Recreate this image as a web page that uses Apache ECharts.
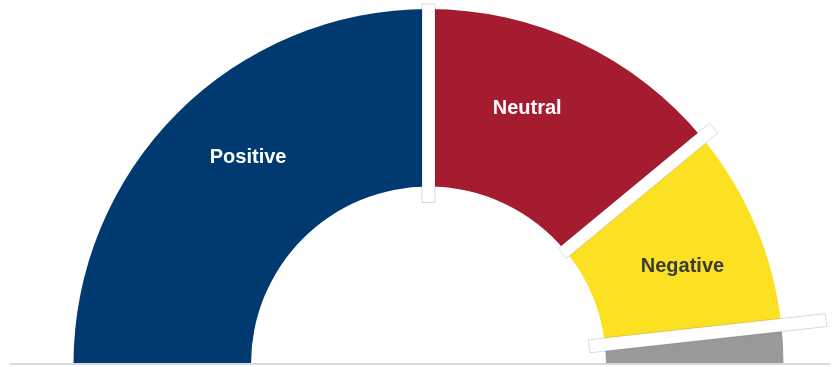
<!DOCTYPE html>
<html>
<head>
<meta charset="utf-8">
<script src="https://cdn.jsdelivr.net/npm/echarts@6/dist/echarts.min.js"></script>
<style>
  html, body { margin: 0; padding: 0; background: #fff; }
  #chart { width: 836px; height: 367px; }
</style>
</head>
<body>
<div id="chart"></div>
<script>
// Sentiment shares (percent of responses), drawn as a half doughnut
const categories = ['Positive', 'Neutral', 'Negative', 'No answer'];
const shares = [50, 28, 18.5, 3.5];
const sliceColors = ['#003A70', '#A51B30', '#FCE022', '#999999'];
const labelColors = ['#ffffff', '#ffffff', '#3A3A3A', '#ffffff'];
const showLabel = [true, true, true, false];

// Layout constants
const CX = 428.5, CY = 364;
const R_IN = 177.5, R_OUT = 355;
// label nudges (px) away from the default mid-ring position
const labelNudge = [[10, -16], [-16, -12], [6, 7], [0, 0]];
// how far each white divider runs past the ring [inward, outward]
const dividerReach = [[16, 5], [4, 15], [16, 45]];

const total = shares.reduce((a, b) => a + b, 0);

// boundaries between neighbouring slices, in share units
const boundaries = [];
let acc = 0;
for (let i = 0; i < shares.length - 1; i++) {
  acc += shares[i];
  boundaries.push(acc);
}

const pieData = categories.map((name, i) => ({
  name: name,
  value: shares[i],
  itemStyle: { color: sliceColors[i] },
  label: { show: showLabel[i], color: labelColors[i] }
}));
// lower half of the ring is left blank
pieData.push({
  name: '',
  value: total,
  itemStyle: { color: 'rgba(0,0,0,0)' },
  label: { show: false }
});

const chart = echarts.init(document.getElementById('chart'), null, { renderer: 'canvas' });

chart.setOption({
  animation: false,
  backgroundColor: '#ffffff',
  polar: { center: [CX, CY], radius: R_OUT },
  angleAxis: {
    type: 'value', min: 0, max: total * 2,
    startAngle: 180, clockwise: true, show: false
  },
  radiusAxis: { type: 'value', min: 0, max: R_OUT, show: false },
  graphic: [{
    type: 'line',
    z: 100,
    shape: { x1: 10, y1: CY, x2: 830, y2: CY },
    style: { stroke: '#D9D9D9', lineWidth: 2 }
  }],
  series: [
    {
      type: 'pie',
      center: [CX, CY],
      radius: [R_IN, R_OUT],
      startAngle: 180,
      clockwise: true,
      silent: true,
      avoidLabelOverlap: false,
      data: pieData,
      label: {
        position: 'inside',
        formatter: '{b}',
        fontFamily: '"Liberation Sans", Arial, sans-serif',
        fontSize: 20,
        fontWeight: 'bold'
      },
      labelLayout: function (p) {
        const n = labelNudge[p.dataIndex] || [0, 0];
        return { dx: n[0], dy: n[1] };
      },
      labelLine: { show: false },
      emphasis: { disabled: true }
    },
    {
      // white dividers laid across each slice boundary
      type: 'custom',
      coordinateSystem: 'polar',
      silent: true,
      z: 10,
      data: boundaries.map(b => [b]),
      renderItem: function (params, api) {
        const v = api.value(0);
        const reach = dividerReach[params.dataIndex] || [8, 8];
        const a = api.coord([R_IN - reach[0], v]);
        const b = api.coord([R_OUT + reach[1], v]);
        const dx = b[0] - a[0], dy = b[1] - a[1];
        const len = Math.sqrt(dx * dx + dy * dy);
        const hw = 6.5;
        const nx = -dy / len * hw, ny = dx / len * hw;
        return {
          type: 'polygon',
          shape: {
            points: [
              [a[0] + nx, a[1] + ny],
              [b[0] + nx, b[1] + ny],
              [b[0] - nx, b[1] - ny],
              [a[0] - nx, a[1] - ny]
            ]
          },
          style: { fill: '#ffffff', stroke: 'rgba(0,0,0,0.14)', lineWidth: 1 }
        };
      }
    }
  ]
});
</script>
</body>
</html>
